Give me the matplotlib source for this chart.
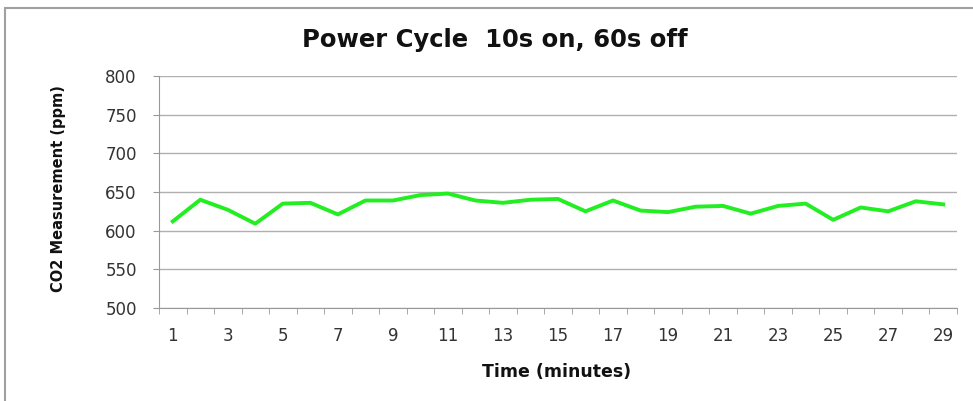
import matplotlib.pyplot as plt
from matplotlib.patches import Rectangle

# Datos
minutes = list(range(1, 30))
co2_ppm = [612, 640, 627, 609, 635, 636, 621, 639, 639, 646,
           648, 639, 636, 640, 641, 625, 639, 626, 624, 631,
           632, 622, 632, 635, 614, 630, 625, 638, 634]
y_ticks = [500, 550, 600, 650, 700, 750, 800]
x_labels = [str(m) for m in minutes if m % 2 == 1]

fig = plt.figure(figsize=(9.73, 4.01), dpi=100)
ax = fig.add_axes([159 / 973, 1 - 308 / 401, 798 / 973, 232 / 401])

# borde exterior del grafico (solo arriba e izquierda quedan dentro de la imagen)
fig.patches.append(Rectangle((5 / 973, -0.1), 1.2, 1.1 - 8 / 401, transform=fig.transFigure,
                             fill=False, edgecolor='#a0a0a0', linewidth=1.5))

ax.plot(minutes, co2_ppm, color='#22ee22', linewidth=2.8, solid_joinstyle='round')

ax.set_xlim(0.5, 29.5)
ax.set_ylim(500, 800)
ax.set_yticks(y_ticks)
ax.set_yticklabels([str(v) for v in y_ticks], fontsize=12, color='#333333')
ax.set_xticks([m for m in minutes if m % 2 == 1])
ax.set_xticklabels(x_labels, fontsize=12, color='#333333')
ax.set_xticks([m + 0.5 for m in range(0, 30)], minor=True)
ax.tick_params(axis='x', which='major', length=0, pad=13.5)
ax.tick_params(axis='x', which='minor', length=4, color='#999999')
ax.tick_params(axis='y', length=4, color='#999999', pad=12)

ax.grid(axis='y', color='#b0b0b0', linewidth=1)
ax.set_axisbelow(True)
for s in ['top', 'right']:
    ax.spines[s].set_visible(False)
for s in ['left', 'bottom']:
    ax.spines[s].set_color('#999999')

fig.text(495 / 973, 1 - 40 / 401, 'Power Cycle  10s on, 60s off', ha='center', va='center',
         fontsize=17.5, fontweight='bold', color='#111111')
fig.text(557 / 973, 1 - 372 / 401, 'Time (minutes)', ha='center', va='center',
         fontsize=12.5, fontweight='bold', color='#111111')
fig.text(58 / 973, 1 - 189 / 401, 'CO2 Measurement (ppm)', ha='center', va='center',
         rotation=90, fontsize=10.5, fontweight='bold', color='#111111')

plt.savefig('out.png', dpi=100)
